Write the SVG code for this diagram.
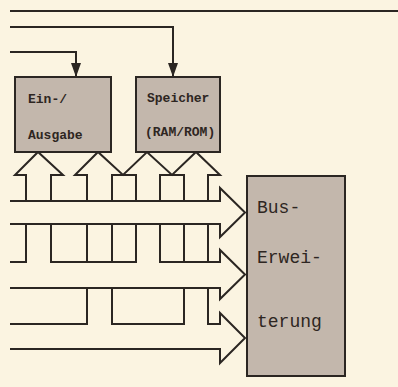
<svg xmlns="http://www.w3.org/2000/svg" width="398" height="387" viewBox="0 0 398 387">
<style>
.ln{fill:none;stroke:#2b2622;stroke-width:2;stroke-linejoin:miter}
.arr{marker-end:url(#ah)}
.box{fill:#c3b7ac;stroke:#2b2622;stroke-width:2}
.sm{font-family:"Liberation Mono","DejaVu Sans Mono",monospace;font-size:13px;font-weight:bold;fill:#2e2622}
.lg{font-family:"Liberation Mono","DejaVu Sans Mono",monospace;font-size:18px;fill:#2e2622}
</style>
<defs>
<marker id="ah" markerUnits="userSpaceOnUse" markerWidth="14" markerHeight="10" refX="14" refY="5" orient="auto" viewBox="0 0 14 10">
<path d="M0,0 L14,5 L0,10 Z" fill="#2b2622"/>
</marker>
</defs>
<rect width="398" height="387" fill="#fbf4e1"/>
<g id="connectors">
<path class="ln" d="M10,11 H398"/>
<path class="ln arr" d="M10,27 H173 V77"/>
<path class="ln arr" d="M10,52 H76 V77"/>
<path class="ln" d="M26,201 V175 H15 L38,152 L63,175 H51 V201"/>
<path class="ln" d="M87,201 V175 H75 L98,152 L123,175 L147,152 L172,175 L196,152 L220,175 H208 V201"/>
<path class="ln" d="M112,201 V175 H136 V201"/>
<path class="ln" d="M160,201 V175 H184 V201"/>
<path class="ln" d="M10,201 H220 V188 L245,212.5 L220,237 V224 H10"/>
<path class="ln" d="M10,262 H26 V224 M51,224 V262 H136 V224 M87,224 V262 M112,224 V262 M160,224 V262 H220 V250 L245,274.5 L220,299 V288 H10 M184,224 V262 M208,224 V262"/>
<path class="ln" d="M10,324 H87 V288 M112,288 V324 H184 V288 M208,288 V324 H220 V313 L245,338 L220,363 V349 H10"/>
</g>
<g id="ein-ausgabe">
<rect class="box" x="15" y="77" width="96" height="75"/>
<text class="sm" x="28" y="103">Ein-/</text>
<text class="sm" x="28" y="139">Ausgabe</text>
</g>
<g id="speicher">
<rect class="box" x="136" y="77" width="84" height="75"/>
<text class="sm" x="147" y="102">Speicher</text>
<text class="sm" x="145" y="136">(RAM/ROM)</text>
</g>
<g id="bus-erweiterung">
<rect class="box" x="247" y="176" width="98" height="200"/>
<text class="lg" x="257" y="213">Bus-</text>
<text class="lg" x="257" y="263">Erwei-</text>
<text class="lg" x="257" y="327">terung</text>
</g>
</svg>
